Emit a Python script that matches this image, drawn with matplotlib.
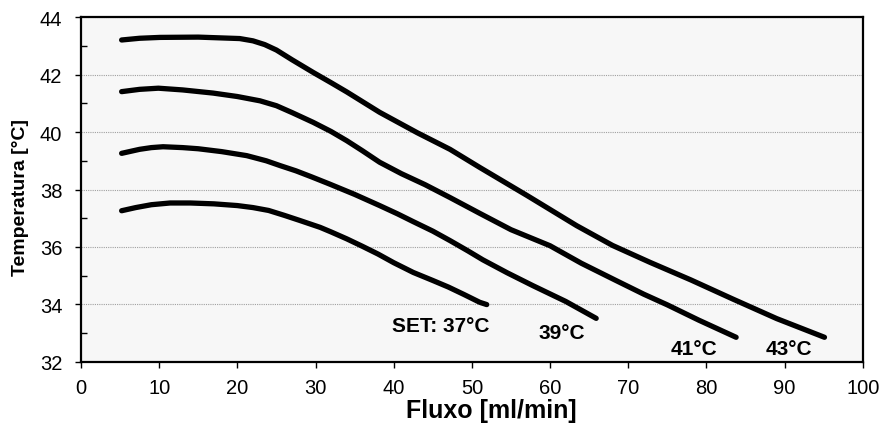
import matplotlib
matplotlib.use("Agg")
import matplotlib.pyplot as plt
from matplotlib.ticker import MultipleLocator

plt.rcParams["font.family"] = ["Liberation Sans", "DejaVu Sans"]

# curves: flow [ml/min] vs temperature [°C]
flow_37 = [5.2, 7, 9, 11.4, 14, 17, 20, 22, 24, 26, 28, 30.6, 32, 34, 36, 38, 40, 42.5, 45, 47, 49, 51, 51.9]
temp_37 = [37.26, 37.37, 37.47, 37.53, 37.53, 37.5, 37.44, 37.37, 37.27, 37.1, 36.92, 36.68, 36.52, 36.28, 36.02, 35.75, 35.45, 35.11, 34.83, 34.6, 34.34, 34.07, 33.99]

flow_39 = [5.2, 7.5, 9, 10.5, 13, 15, 18, 21.2, 23.7, 25.5, 27.5, 29.5, 31.8, 35, 38.2, 40.5, 42.5, 45, 47.2, 49.5, 51.4, 54.5, 57.8, 62, 65.9]
temp_39 = [39.26, 39.4, 39.46, 39.49, 39.46, 39.42, 39.32, 39.18, 39.0, 38.83, 38.65, 38.44, 38.19, 37.83, 37.44, 37.15, 36.88, 36.55, 36.22, 35.86, 35.55, 35.1, 34.65, 34.1, 33.51]

flow_41 = [5.2, 7.5, 9.9, 13, 16.9, 20, 22.9, 25, 27, 29.7, 32, 34, 36, 38.2, 41, 44, 47.2, 51, 55, 60, 64, 68.5, 72, 75, 79, 83.8]
temp_41 = [41.41, 41.49, 41.53, 41.47, 41.36, 41.24, 41.09, 40.92, 40.68, 40.34, 40.02, 39.7, 39.35, 38.95, 38.55, 38.17, 37.72, 37.17, 36.6, 36.04, 35.43, 34.82, 34.35, 33.98, 33.45, 32.85]

flow_43 = [5.2, 7.5, 10.1, 15, 20.3, 22, 23.5, 25, 27, 29.7, 32, 34, 38.2, 43, 47.2, 51, 57, 63.4, 68, 72.8, 78, 83.4, 89, 95.1]
temp_43 = [43.21, 43.27, 43.30, 43.31, 43.26, 43.18, 43.05, 42.86, 42.52, 42.08, 41.72, 41.4, 40.69, 39.98, 39.4, 38.77, 37.8, 36.74, 36.05, 35.46, 34.85, 34.18, 33.5, 32.85]

curve_labels = ["SET: 37°C", "39°C", "41°C", "43°C"]
label_x = [52.3, 61.5, 78.4, 90.5]
label_y = [33.26, 33.02, 32.45, 32.45]

fig = plt.figure(figsize=(8.84, 4.31), dpi=100)
ax = fig.add_axes([0.0916, 0.1585, 0.8844, 0.799])
ax.set_facecolor("#f7f7f7")

for fx, ty in [(flow_37, temp_37), (flow_39, temp_39), (flow_41, temp_41), (flow_43, temp_43)]:
    ax.plot(fx, ty, color="black", lw=3.8, solid_capstyle="round", solid_joinstyle="round")

for i, txt in enumerate(curve_labels):
    ha = "right" if i == 0 else "center"
    ax.text(label_x[i], label_y[i], txt, ha=ha, va="center", fontsize=15, fontweight="bold")

ax.set_xlim(0, 100)
ax.set_ylim(32, 44)
ax.xaxis.set_major_locator(MultipleLocator(10))
ax.yaxis.set_major_locator(MultipleLocator(2))
ax.yaxis.set_minor_locator(MultipleLocator(1))
ax.grid(axis="y", which="major", color="#a0a0a0", linestyle=(0, (1, 1)), lw=0.8)

ax.tick_params(axis="both", which="major", direction="out", length=4.5, width=1, labelsize=14.5)
ax.tick_params(axis="x", which="major", pad=7)
ax.tick_params(axis="y", which="major", pad=9)
ax.tick_params(axis="y", which="minor", direction="in", length=4, width=1)
for s in ax.spines.values():
    s.set_linewidth(1.6)

ax.set_xlabel("Fluxo [ml/min]", fontsize=18, fontweight="bold")
ax.xaxis.set_label_coords(0.525, -0.105)
ax.set_ylabel("Temperatura [°C]", fontsize=14, fontweight="bold")
ax.yaxis.set_label_coords(-0.066, 0.481)

fig.savefig("out.png", dpi=100)
